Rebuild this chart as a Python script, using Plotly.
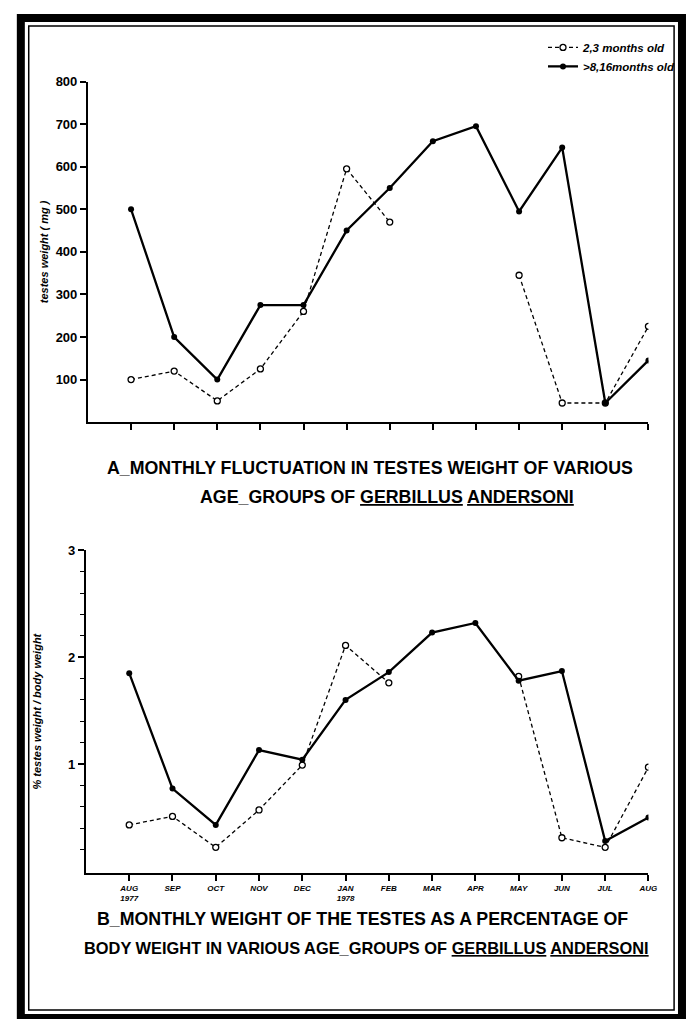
import plotly.graph_objects as go

months = ["AUG<br>1977", "SEP", "OCT", "NOV", "DEC", "JAN<br>1978", "FEB",
          "MAR", "APR", "MAY", "JUN", "JUL", "AUG"]
month_idx = list(range(len(months)))

# Panel A: testes weight (mg)
weight_young = [100, 120, 50, 125, 260, 595, 470, None, None, 345, 45, 45, 225]
weight_adult = [500, 200, 100, 275, 275, 450, 550, 660, 695, 495, 645, 45, 145]

# Panel B: % testes weight / body weight
pct_young = [0.43, 0.51, 0.22, 0.57, 0.99, 2.11, 1.76, None, None, 1.82, 0.31, 0.22, 0.97]
pct_adult = [1.85, 0.77, 0.43, 1.13, 1.04, 1.60, 1.86, 2.23, 2.32, 1.78, 1.87, 0.28, 0.50]

name_young = "2,3 months old"
name_adult = ">8,16months old"

# page body has an 8px margin: size the figure to fit inside it
OFF = 8
W, H = 698 - 2 * OFF, 1027 - 2 * OFF
FONT = "Liberation Sans"


def px(x):
    return (x - OFF) / W


def py(y):
    return 1 - (y - OFF) / H


fig = go.Figure()

young_style = dict(mode="lines+markers",
                   line=dict(color="black", width=1.3, dash="4px,3px"),
                   marker=dict(symbol="circle", size=6, color="white",
                               line=dict(color="black", width=1.3)),
                   connectgaps=False)
adult_style = dict(mode="lines+markers",
                   line=dict(color="black", width=2.3),
                   marker=dict(symbol="circle", size=6, color="black"))

fig.add_trace(go.Scatter(x=month_idx, y=weight_young, name=name_young,
                         xaxis="x", yaxis="y", legendrank=1, **young_style))
fig.add_trace(go.Scatter(x=month_idx, y=weight_adult, name=name_adult,
                         xaxis="x", yaxis="y", legendrank=2, **adult_style))
fig.add_trace(go.Scatter(x=month_idx, y=pct_young, name=name_young, showlegend=False,
                         xaxis="x2", yaxis="y2", **young_style))
fig.add_trace(go.Scatter(x=month_idx, y=pct_adult, name=name_adult, showlegend=False,
                         xaxis="x2", yaxis="y2", **adult_style))

axis_common = dict(showline=True, linecolor="black", linewidth=2, showgrid=False,
                   zeroline=False, ticks="outside", ticklen=6, tickwidth=1.5,
                   tickcolor="black")

fig.update_layout(
    width=W, height=H,
    margin=dict(l=0, r=0, t=0, b=0),
    paper_bgcolor="white", plot_bgcolor="white",
    font=dict(family=FONT, color="black"),
    xaxis=dict(domain=[px(89), px(657)], range=[-1, 12], anchor="y",
               tickvals=month_idx, showticklabels=False, **axis_common),
    yaxis=dict(domain=[py(418), py(75)], range=[0, 800], anchor="x",
               tickvals=[100, 200, 300, 400, 500, 600, 700, 800],
               tickfont=dict(size=13, weight="bold", family=FONT),
               title=dict(text="testes weight ( mg )", standoff=5,
                          font=dict(size=11, weight="bold", style="italic", family=FONT)),
               **axis_common),
    xaxis2=dict(domain=[px(87), px(657)], range=[-1, 12], anchor="y2",
                tickvals=month_idx, ticktext=months,
                tickfont=dict(size=8, weight="bold", style="italic", family=FONT),
                **axis_common),
    yaxis2=dict(domain=[py(872), py(547)], range=[-0.02, 3], anchor="x2",
                tickvals=[1, 2, 3],
                tickfont=dict(size=13, weight="bold", family=FONT),
                minor=dict(tickvals=[0.2, 0.4, 0.6, 0.8, 1.2, 1.4, 1.6, 1.8,
                                     2.2, 2.4, 2.6, 2.8],
                           ticks="outside", ticklen=4, tickwidth=1.2,
                           tickcolor="black", showgrid=False),
                title=dict(text="% testes weight / body weight", standoff=24,
                           font=dict(size=11, weight="bold", style="italic", family=FONT)),
                **axis_common),
    legend=dict(x=px(690), xanchor="right", y=py(26), yanchor="top",
                bgcolor="rgba(0,0,0,0)", itemwidth=30, tracegroupgap=0,
                font=dict(size=11.5, weight="bold", style="italic", family=FONT)),
)

titles = [
    ("A_MONTHLY FLUCTUATION IN TESTES WEIGHT OF VARIOUS", 375, 464, 17.8),
    ("AGE_GROUPS OF <u>GERBILLUS</u> <u>ANDERSONI</u>", 392, 493, 17.8),
    ("B_MONTHLY WEIGHT OF THE TESTES AS A PERCENTAGE OF", 367, 918, 17.8),
    ("BODY WEIGHT IN VARIOUS AGE_GROUPS OF <u>GERBILLUS</u> <u>ANDERSONI</u>", 371, 948, 16.4),
]
for text, x, y, size in titles:
    fig.add_annotation(text=text, xref="paper", yref="paper", x=px(x), y=py(y),
                       xanchor="center", yanchor="middle", showarrow=False,
                       font=dict(family=FONT, size=size, weight="bold", color="black"))

# Frame around the figure
fig.add_shape(type="rect", xref="paper", yref="paper",
              x0=px(21), x1=px(691), y0=py(1018), y1=py(11),
              line=dict(color="black", width=8), fillcolor="rgba(0,0,0,0)")
fig.add_shape(type="rect", xref="paper", yref="paper",
              x0=px(29), x1=px(683), y0=py(1010), y1=py(19),
              line=dict(color="black", width=1.5), fillcolor="rgba(0,0,0,0)")

fig.write_html("out.html")
